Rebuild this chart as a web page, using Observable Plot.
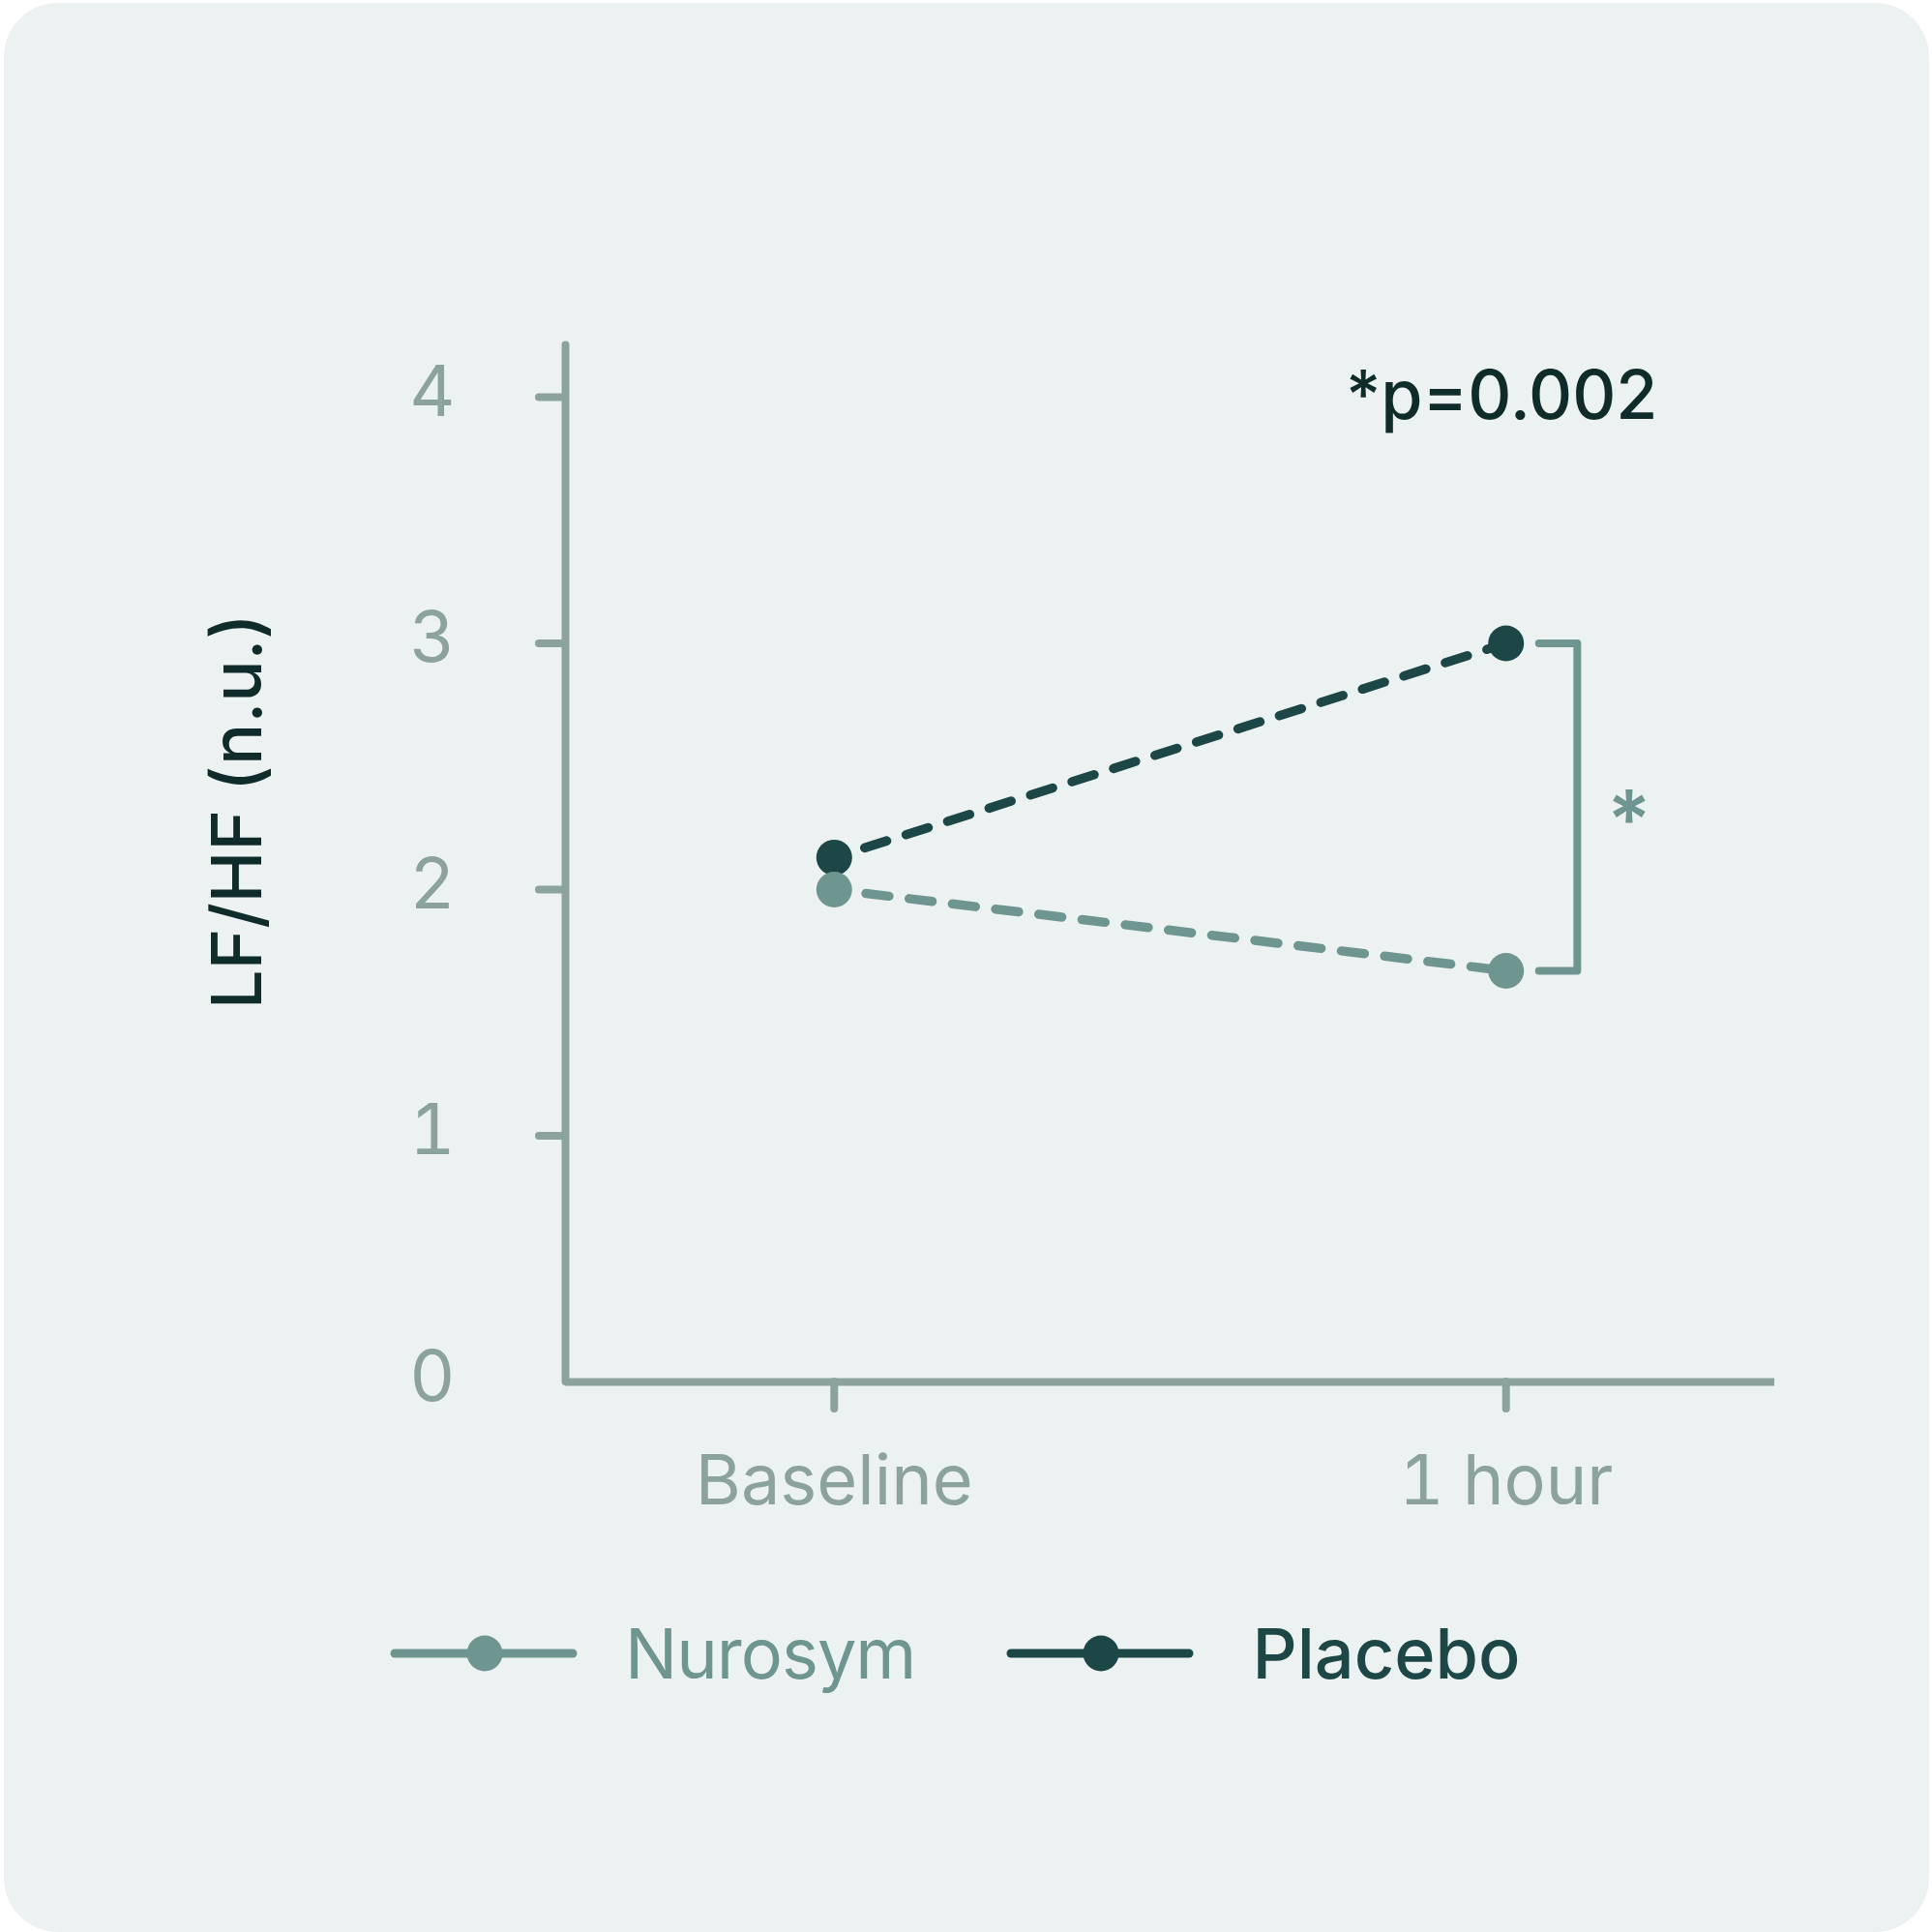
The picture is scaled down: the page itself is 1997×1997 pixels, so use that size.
<!DOCTYPE html>
<html>
<head>
<meta charset="utf-8">
<script src="https://cdn.jsdelivr.net/npm/d3@7"></script>
<script src="https://cdn.jsdelivr.net/npm/@observablehq/plot@0.6"></script>
<style>
  html, body { margin: 0; padding: 0; background: #ffffff; }
  #card {
    position: absolute; left: 4px; top: 3px; width: 1990px; height: 1994px;
    background: #ecf2f2; border-radius: 56px;
  }
  #chart { position: absolute; left: 0; top: 0; }
  #legend {
    position: absolute; left: 403px; top: 1665px; display: flex; align-items: center;
    font-family: Inter, "Open Sans", sans-serif; font-size: 72px;
  }
  .item { display: flex; align-items: center; }
</style>
</head>
<body>
<div id="card"></div>
<div id="chart"></div>
<div id="legend"></div>
<script>
// ---- data ----
const timepoints = ["Baseline", "1 hour"];
const groups = ["Nurosym", "Placebo"];
const nurosym = [2.00, 1.67];
const placebo = [2.13, 3.00];
const yTicks = [0, 1, 2, 3, 4];
const pLabel = "*p=0.002";
const yLabel = "LF/HF (n.u.)";
const sigMark = "*";

// ---- styles ----
const axisColor = "#8ba39c";
const colors = ["#6f9590", "#1c4746"];
const textDark = "#0f2b2a";
const font = "Inter, 'Open Sans', sans-serif";

const rows = [];
groups.forEach((g, gi) => {
  const vals = gi === 0 ? nurosym : placebo;
  timepoints.forEach((t, ti) => rows.push({t: ti, group: g, value: vals[ti]}));
});
const placeboRows = rows.filter(d => d.group === "Placebo");
const nurosymRows = rows.filter(d => d.group === "Nurosym");

const last = timepoints.length - 1;
const bracket = [
  {x: last + 0.049, y: placebo[last]},
  {x: last + 0.106, y: placebo[last]},
  {x: last + 0.106, y: nurosym[last]},
  {x: last + 0.049, y: nurosym[last]}
];

const chart = Plot.plot({
  width: 1997,
  height: 1600,
  marginLeft: 584,
  marginRight: 163,
  marginTop: 410,
  marginBottom: 172,
  style: {background: "transparent", fontFamily: font, overflow: "visible"},
  x: {type: "linear", domain: [-0.4, 1.4]},
  y: {domain: [0, 4]},
  color: {domain: groups, range: colors},
  marks: [
    Plot.ruleY([0], {stroke: axisColor, strokeWidth: 8}),
    Plot.ruleX([-0.4], {y1: 0, y2: 4.21, stroke: axisColor, strokeWidth: 8, strokeLinecap: "round"}),
    Plot.axisY({ticks: yTicks.filter(v => v > 0), tickSize: 27, tickFormat: () => "", color: axisColor, strokeWidth: 8, strokeLinecap: "round"}),
    Plot.axisY({ticks: yTicks, tickSize: 0, tickPadding: 114, tickFormat: d3.format("d"), fontSize: 73, color: axisColor, fontWeight: 400, dy: -4}),
    Plot.axisX({ticks: d3.range(timepoints.length), tickSize: 28, tickFormat: () => "", color: axisColor, strokeWidth: 8, strokeLinecap: "round"}),
    Plot.axisX({ticks: d3.range(timepoints.length), tickSize: 0, tickPadding: 75, tickFormat: i => timepoints[i], fontSize: 72, color: axisColor}),
    Plot.line(rows, {x: "t", y: "value", z: "group", stroke: "group", strokeWidth: 9.5,
      strokeDasharray: "24,21", strokeDashoffset: 12, strokeLinecap: "round"}),
    Plot.dot(placeboRows, {x: "t", y: "value", fill: "group", r: 18.5}),
    Plot.dot(nurosymRows, {x: "t", y: "value", fill: "group", r: 18.5}),
    Plot.line(bracket, {x: "x", y: "y", stroke: colors[0], strokeWidth: 8, strokeLinecap: "round", strokeLinejoin: "round"}),
    Plot.text([sigMark], {x: last + 0.183, y: (placebo[last] + nurosym[last]) / 2, text: d => d,
      fill: colors[0], fontSize: 84, fontWeight: 600, dy: 16}),
    Plot.text([pLabel], {frameAnchor: "top-right", text: d => d, textAnchor: "end",
      dx: -121, dy: -27, fill: textDark, fontSize: 70, fontWeight: 500}),
    Plot.text([yLabel], {frameAnchor: "left", text: d => d, rotate: -90, textAnchor: "middle",
      dx: -338, dy: -81, fill: textDark, fontSize: 72, fontWeight: 500})
  ]
});
document.getElementById("chart").appendChild(chart);

// ---- legend ----
const legend = document.getElementById("legend");
groups.forEach((g, i) => {
  const item = document.createElement("div");
  item.className = "item";
  item.style.marginRight = i === 0 ? "94px" : "0";
  const svg = d3.create("svg").attr("width", 194).attr("height", 40);
  svg.append("line").attr("x1", 5).attr("x2", 189).attr("y1", 20).attr("y2", 20)
    .attr("stroke", colors[i]).attr("stroke-width", 9).attr("stroke-linecap", "round");
  svg.append("circle").attr("cx", 98).attr("cy", 20).attr("r", 18.5).attr("fill", colors[i]);
  item.appendChild(svg.node());
  const label = document.createElement("span");
  label.textContent = g;
  label.style.color = colors[i];
  label.style.fontWeight = i === 0 ? 400 : 500;
  label.style.letterSpacing = i === 0 ? "-1px" : "0px";
  label.style.marginLeft = i === 0 ? "49px" : "60px";
  item.appendChild(label);
  legend.appendChild(item);
});
</script>
</body>
</html>
